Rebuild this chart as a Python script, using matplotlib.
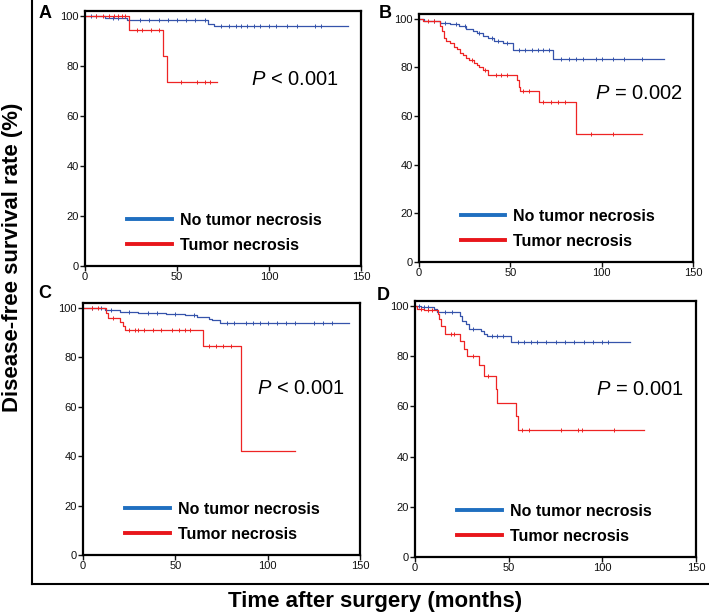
import matplotlib.pyplot as plt
from matplotlib.lines import Line2D

plt.rcParams['font.family'] = 'Liberation Sans'
plt.rcParams['mathtext.fontset'] = 'custom'
plt.rcParams['mathtext.it'] = 'Liberation Sans:italic'
plt.rcParams['mathtext.rm'] = 'Liberation Sans'

# Kaplan-Meier step data (time in months, survival in %)
a_no_t = [0, 11, 23, 67, 70, 143]
a_no_s = [100, 99.2, 98.5, 97, 96, 96]
a_no_cens = [3, 6, 15, 18, 30, 35, 40, 45, 50, 55, 60, 65, 74, 78, 82, 85, 88, 92, 95, 100, 104, 110, 115, 125, 128]
a_tn_t = [0, 24, 42.5, 44.5, 71.5]
a_tn_s = [100, 94.4, 84, 73.5, 73.5]
a_tn_cens = [6, 10, 13, 16, 18, 20, 22, 28, 31, 36, 40, 52, 61, 65, 68]

b_no_t = [0, 3, 11.5, 17, 22, 26, 29.5, 31.5, 35, 38, 41, 46, 51.5, 73.5, 134]
b_no_s = [100, 99, 98.5, 98, 97, 96, 95, 94, 93, 92, 91, 90, 87, 83.3, 83.3]
b_no_cens = [8, 14, 20, 25, 33, 40, 43, 48, 55, 58, 62, 65, 68, 71, 78, 82, 86, 90, 97, 100, 106, 112, 122]
b_tn_t = [0, 2, 11.5, 12.5, 13.5, 15, 17, 19, 21, 22.5, 24, 26, 27.5, 30, 31.5, 33, 35, 38, 53.5, 54.5, 55.5, 65.5, 85.7, 122]
b_tn_s = [100, 99, 97, 95, 92, 91, 90, 88.5, 87.5, 86, 85, 84, 83, 82, 81, 80, 79, 77, 75, 72, 70.5, 66, 52.7, 52.7]
b_tn_cens = [5, 8, 29, 36, 42, 45, 48, 57, 60, 68, 72, 76, 80, 94, 106]

c_no_t = [0, 12, 20, 30, 45, 55, 62, 68, 70, 74, 144]
c_no_s = [100, 99, 98.5, 98, 97.5, 97, 96.5, 95.5, 95, 94, 94]
c_no_cens = [5, 10, 15, 25, 35, 40, 50, 60, 78, 82, 88, 92, 96, 100, 105, 110, 115, 125, 130, 135]
c_tn_t = [0, 12.5, 13.5, 20, 21.5, 22.5, 65, 85.5, 115]
c_tn_s = [100, 98, 96, 94.5, 92.5, 91, 84.5, 42.2, 42.2]
c_tn_cens = [5, 8, 16, 25, 28, 30, 33, 38, 42, 48, 52, 55, 58, 68, 72, 76, 80]

d_no_t = [0, 3, 10, 12, 24, 25, 27, 29, 35, 37, 38.5, 51.5, 115]
d_no_s = [100, 99.5, 99, 97.5, 96, 94, 93, 91, 90, 89, 88, 85.5, 85.5]
d_no_cens = [2, 5, 7, 16, 20, 31, 41, 44, 47, 55, 58, 62, 65, 70, 75, 80, 85, 90, 95, 100, 103]
d_tn_t = [0, 1, 5, 12.5, 13, 14, 16, 24, 26, 28, 34, 37, 43, 44, 54, 55, 122]
d_tn_s = [100, 99, 98.5, 97, 95, 92, 89, 86, 83, 80, 76.5, 72, 67, 61.5, 56, 50.5, 50.5]
d_tn_cens = [3, 7, 9, 19, 21, 31, 39, 57, 61, 78, 87, 89, 106]

letters = ['A', 'B', 'C', 'D']
pvals = [r'$\it{P}$ < 0.001', r'$\it{P}$ = 0.002', r'$\it{P}$ < 0.001', r'$\it{P}$ = 0.001']
labels = ['No tumor necrosis', 'Tumor necrosis']

panels = [
    (a_no_t, a_no_s, a_no_cens, a_tn_t, a_tn_s, a_tn_cens),
    (b_no_t, b_no_s, b_no_cens, b_tn_t, b_tn_s, b_tn_cens),
    (c_no_t, c_no_s, c_no_cens, c_tn_t, c_tn_s, c_tn_cens),
    (d_no_t, d_no_s, d_no_cens, d_tn_t, d_tn_s, d_tn_cens),
]

W, H = 709, 613
# axes boxes in pixels: left, right, top, bottom
boxes = [(85, 361, 11, 266), (419, 693, 14, 262), (83, 360, 303, 555), (415, 696, 301, 557)]
letter_pos = [(45, 14), (385, 13), (45, 294), (383, 295)]
p_pos = [(0.918, 0.73), (0.962, 0.68), (0.946, 0.66), (0.955, 0.655)]

blue = '#3553ab'
red = '#ee2424'
leg_blue = '#1f6fc0'
leg_red = '#e8161b'


def km(ax, t, s, cens, color):
    ax.step(t, s, where='post', color=color, lw=0.9)
    cy = []
    for c in cens:
        v = s[0]
        for ti, si in zip(t, s):
            if ti <= c:
                v = si
        cy.append(v)
    ax.plot(cens, cy, ls='none', marker='|', ms=3, mew=0.7, color=color)


fig = plt.figure(figsize=(W / 100, H / 100), dpi=100)

for i, (l, r, t, b) in enumerate(boxes):
    ax = fig.add_axes([l / W, 1 - b / H, (r - l) / W, (b - t) / H])
    no_t, no_s, no_c, tn_t, tn_s, tn_c = panels[i]
    km(ax, no_t, no_s, no_c, blue)
    km(ax, tn_t, tn_s, tn_c, red)
    ax.set_xlim(0, 150)
    ax.set_ylim(0, 102)
    ax.set_xticks([0, 50, 100, 150])
    ax.set_yticks([0, 20, 40, 60, 80, 100])
    ax.tick_params(direction='out', length=3.5, width=1, labelsize=8, pad=1, colors='#111111')
    for sp in ax.spines.values():
        sp.set_linewidth(1.6)
    handles = [Line2D([], [], color=leg_blue, lw=2.8), Line2D([], [], color=leg_red, lw=2.8)]
    ax.legend(handles, labels, loc='lower left', bbox_to_anchor=(0.1, -0.005), frameon=False,
              prop={'weight': 'bold', 'size': 11.5}, handlelength=2.8, handletextpad=0.5,
              labelspacing=0.62)
    ax.text(p_pos[i][0], p_pos[i][1], pvals[i], transform=ax.transAxes, ha='right', va='center',
            fontsize=14.5)
    fig.text(letter_pos[i][0] / W, 1 - letter_pos[i][1] / H, letters[i], ha='center', va='center',
             fontsize=13, fontweight='bold')

# outer frame (left and bottom)
fig.add_artist(Line2D([32 / W, 32 / W], [1, 1 - 584 / H], color='black', lw=1.5))
fig.add_artist(Line2D([32 / W, 1], [1 - 584 / H, 1 - 584 / H], color='black', lw=1.5))

fig.text(375 / W, 1 - 602 / H, 'Time after surgery (months)', ha='center', va='center',
         fontsize=16, fontweight='bold')
fig.text(13 / W, 1 - 257 / H, 'Disease-free survival rate (%)', ha='center', va='center',
         rotation=90, fontsize=16, fontweight='bold')

fig.savefig('out.png', dpi=100)
